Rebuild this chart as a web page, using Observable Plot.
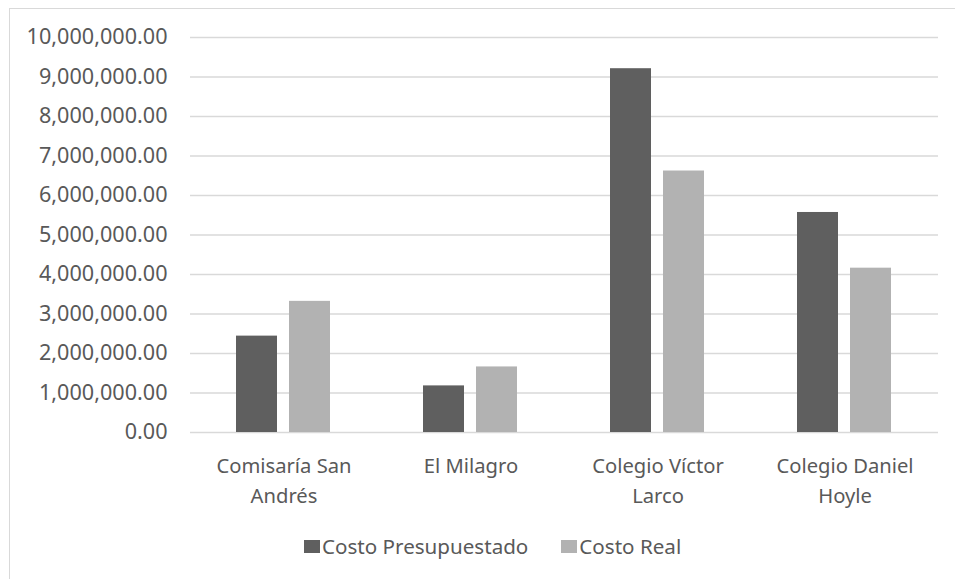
<!DOCTYPE html>
<html>
<head>
<meta charset="utf-8">
<script src="https://cdn.jsdelivr.net/npm/d3@7"></script>
<script src="https://cdn.jsdelivr.net/npm/@observablehq/plot@0.6"></script>
<style>
  html, body { margin: 0; padding: 0; background: #fff; }
  body { width: 955px; height: 579px; overflow: hidden; position: relative; font-family: "Noto Sans", "Open Sans", sans-serif; }
  #frame { position: absolute; left: 9px; top: 8px; width: 980px; height: 620px; border-left: 1.5px solid #d9d9d9; border-top: 1.5px solid #d9d9d9; }
  #chart { position: absolute; left: 0; top: 0; }
  #legend { position: absolute; left: 304px; top: 532px; display: flex; align-items: center; font-size: 20.6px; color: #595959; white-space: nowrap; }
  #legend .item { display: flex; align-items: center; }
  #legend .sw { width: 16px; height: 13px; margin-right: 2px; }
</style>
</head>
<body>
<div id="frame"></div>
<div id="chart"></div>
<div id="legend"></div>
<script>
const categories = ["Comisaría San Andrés", "El Milagro", "Colegio Víctor Larco", "Colegio Daniel Hoyle"];
const categoryLabels = ["Comisaría San\nAndrés", "El Milagro", "Colegio Víctor\nLarco", "Colegio Daniel\nHoyle"];
const series = ["Costo Presupuestado", "Costo Real"];
const costoPresupuestado = [2440000, 1180000, 9210000, 5570000];
const costoReal = [3320000, 1660000, 6620000, 4160000];
const yTicks = [0, 1000000, 2000000, 3000000, 4000000, 5000000, 6000000, 7000000, 8000000, 9000000, 10000000];
const seriesColors = ["#5f5f5f", "#b2b2b2"];

const values = [costoPresupuestado, costoReal];
const rows = [];
categories.forEach((c, i) => {
  series.forEach((s, j) => rows.push({cat: c, series: s, value: values[j][i]}));
});
const labelOf = new Map(categories.map((c, i) => [c, categoryLabels[i]]));

const chart = Plot.plot({
  width: 955,
  height: 520,
  marginLeft: 188,
  marginRight: 15.5,
  marginTop: 37,
  marginBottom: 88,
  style: {fontFamily: "'Noto Sans', 'Open Sans', sans-serif", color: "#595959", background: "transparent"},
  fx: {domain: categories, padding: 0, label: null},
  x: {domain: series, paddingInner: 0.218, paddingOuter: 0.86, axis: null},
  y: {domain: [0, 10000000], nice: false, label: null},
  color: {domain: series, range: seriesColors},
  marks: [
    Plot.ruleY(yTicks, {stroke: "#d9d9d9", strokeWidth: 1.5}),
    Plot.barY(rows, {fx: "cat", x: "series", y: "value", fill: "series"}),
    Plot.axisY({ticks: yTicks, tickFormat: d3.format(",.2f"), tickSize: 0, tickPadding: 23, fontSize: 21.6, fill: "#595959", label: null}),
    Plot.axisFx({anchor: "bottom", tickSize: 0, tickPadding: 19, fontSize: 20.2, lineHeight: 1.48, fill: "#595959", tickFormat: d => labelOf.get(d), label: null})
  ]
});
document.getElementById("chart").appendChild(chart);

const legend = document.getElementById("legend");
series.forEach((s, i) => {
  const item = document.createElement("div");
  item.className = "item";
  if (i > 0) item.style.marginLeft = "33px";
  const sw = document.createElement("span");
  sw.className = "sw";
  sw.style.background = seriesColors[i];
  const t = document.createElement("span");
  t.textContent = s;
  item.appendChild(sw);
  item.appendChild(t);
  legend.appendChild(item);
});
</script>
</body>
</html>
